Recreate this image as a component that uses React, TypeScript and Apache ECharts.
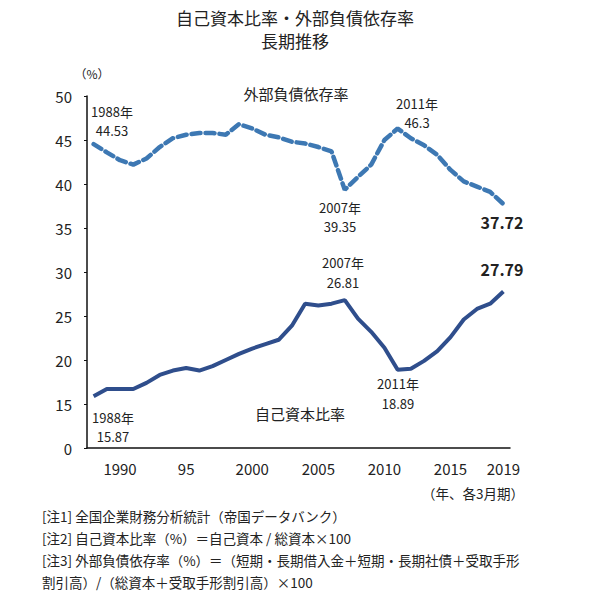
import React, { useEffect, useRef } from "react";
import * as echarts from "echarts";

const years = [
  "1988","1989","1990","1991","1992","1993","1994","1995","1996","1997","1998","1999","2000","2001","2002","2003",
  "2004","2005","2006","2007","2008","2009","2010","2011","2012","2013","2014","2015","2016","2017","2018","2019",
];
const equityRatio = [
  15.87, 16.7, 16.7, 16.7, 17.4, 18.3, 18.8, 19.1, 18.8, 19.3, 20.0, 20.7, 21.3, 21.8, 22.3, 23.9,
  26.4, 26.2, 26.4, 26.81, 24.7, 23.2, 21.4, 18.89, 19.0, 19.9, 21.0, 22.6, 24.6, 25.8, 26.4, 27.79,
];
const debtDependence = [
  44.53, 43.6, 42.7, 42.2, 42.9, 44.2, 45.2, 45.6, 45.8, 45.8, 45.6, 46.8, 46.3, 45.6, 45.3, 44.8,
  44.6, 44.2, 43.7, 39.35, 40.8, 42.2, 45.0, 46.3, 45.2, 44.4, 43.3, 41.6, 40.3, 39.7, 39.1, 37.72,
];
const xTickLabels: Record<string, string> = {
  "1990": "1990", "1995": "95", "2000": "2000", "2005": "2005", "2010": "2010", "2015": "2015", "2019": "2019",
};
const yTicks = { min: 10, max: 50, interval: 5, bottomLabel: "0" };
const notes = [
  "[注1] 全国企業財務分析統計（帝国データバンク）",
  "[注2] 自己資本比率（%）＝自己資本 / 総資本×100",
  "[注3] 外部負債依存率（%）＝（短期・長期借入金＋短期・長期社債＋受取手形",
  "割引高）/（総資本＋受取手形割引高）×100",
];

const FONT = "'Noto Sans CJK JP', 'Noto Sans', sans-serif";
const TXT = "#222";

export default function App() {
  const ref = useRef<HTMLDivElement>(null);
  useEffect(() => {
    document.body.style.margin = "0";
    const chart = echarts.init(ref.current!, null, { renderer: "svg" });
    const t = (x: number, y: number, text: string, size = 13, align = "center", weight = "normal") => ({
      type: "text",
      x,
      y,
      style: {
        text,
        fontSize: size,
        fontFamily: FONT,
        fontWeight: weight,
        fill: TXT,
        textAlign: align,
        textVerticalAlign: "middle",
      },
    });
    chart.setOption({
      animation: false,
      backgroundColor: "#fff",
      grid: { left: 87, right: 90, top: 96, bottom: 158 },
      xAxis: {
        type: "category",
        data: years,
        boundaryGap: true,
        axisLine: { lineStyle: { color: "#111", width: 1.5 } },
        axisTick: { show: false },
        axisLabel: {
          interval: (i: number, v: string) => v in xTickLabels,
          formatter: (v: string) => xTickLabels[v] ?? "",
          fontSize: 15,
          fontFamily: FONT,
          color: TXT,
          margin: 13,
        },
      },
      yAxis: {
        type: "value",
        min: yTicks.min,
        max: yTicks.max,
        interval: yTicks.interval,
        splitLine: { show: false },
        axisLine: { show: true, lineStyle: { color: "#111", width: 1.5 } },
        axisTick: { show: true, length: 3, lineStyle: { color: "#111" } },
        axisLabel: {
          formatter: (v: number) => (v === yTicks.min ? yTicks.bottomLabel : String(v)),
          fontSize: 15,
          fontFamily: FONT,
          color: TXT,
          margin: 15,
        },
      },
      series: [
        {
          type: "line",
          data: debtDependence,
          symbol: "none",
          lineStyle: { color: "#3d78b3", width: 4.5, type: [9, 5], cap: "round" },
        },
        {
          type: "line",
          data: equityRatio,
          symbol: "none",
          lineStyle: { color: "#2f4e8c", width: 4 },
        },
      ],
      graphic: [
        t(295, 17, "自己資本比率・外部負債依存率", 17),
        t(295, 40, "長期推移", 17),
        t(92, 73, "（%）", 12),
        t(296, 93, "外部負債依存率", 15),
        t(112, 111, "1988年", 13),
        t(112, 130, "44.53", 13),
        t(417, 103, "2011年", 13),
        t(417, 122, "46.3", 13),
        t(340, 207, "2007年", 13),
        t(340, 226, "39.35", 13),
        t(502, 222, "37.72", 16, "center", "bold"),
        t(343, 262, "2007年", 13),
        t(343, 282, "26.81", 13),
        t(502, 269, "27.79", 16, "center", "bold"),
        t(113, 417, "1988年", 13),
        t(113, 436, "15.87", 13),
        t(398, 383, "2011年", 13),
        t(398, 403, "18.89", 13),
        t(300, 413, "自己資本比率", 15),
        t(473, 493, "（年、各3月期）", 13.5),
        ...notes.map((n, i) => t(42, 516 + i * 22, n, 13.5, "left")),
      ],
    });
    return () => chart.dispose();
  }, []);
  return <div ref={ref} style={{ width: 600, height: 606 }} />;
}
